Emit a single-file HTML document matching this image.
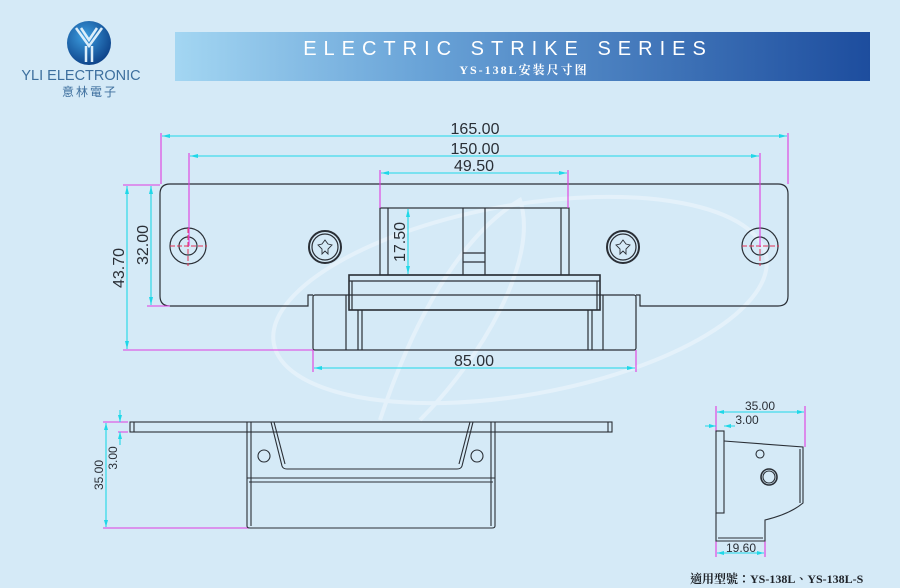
<!DOCTYPE html>
<html><head><meta charset="utf-8"><style>
html,body{margin:0;padding:0;background:#d5eaf7;}
svg{display:block;}
</style></head><body>
<svg width="900" height="588" viewBox="0 0 900 588" xmlns="http://www.w3.org/2000/svg" font-family="Liberation Sans, sans-serif">
<defs>
<linearGradient id="bn" x1="0" x2="1" y1="0" y2="0">
<stop offset="0" stop-color="#a3d6f2"/><stop offset="0.35" stop-color="#6aa4d8"/><stop offset="1" stop-color="#1d4d9e"/></linearGradient>
<radialGradient id="lg" cx="0.4" cy="0.35" r="0.7"><stop offset="0" stop-color="#3d9ee0"/><stop offset="1" stop-color="#0b3f86"/></radialGradient>
</defs>
<rect width="900" height="588" fill="#d5eaf7"/>
<!-- watermark -->
<g fill="none" stroke="#eef7fd" stroke-width="4" opacity="0.6">
<ellipse cx="520" cy="300" rx="250" ry="95" transform="rotate(-10 520 300)"/>
<path d="M380 420 C420 300 470 230 520 200 C540 260 480 360 420 420"/>
</g>
<!-- logo -->
<circle cx="89" cy="43" r="22" fill="url(#lg)"/>
<path d="M76 28 L89 46 L102 28 M81 28 L89 40 L97 28 M86 46 L86 62 M92 46 L92 62" stroke="#dceefa" stroke-width="2.5" fill="none"/>
<text x="81" y="80" text-anchor="middle" font-size="14.5" fill="#3d6f9e">YLI ELECTRONIC</text>
<text x="90" y="96" text-anchor="middle" font-size="12" fill="#3d6f9e" font-family="Liberation Sans, Noto Sans CJK TC, sans-serif" letter-spacing="2">意林電子</text>
<!-- banner -->
<rect x="175" y="32" width="695" height="49" fill="url(#bn)"/>
<text x="508" y="55" text-anchor="middle" font-size="20" fill="#fff" letter-spacing="7">ELECTRIC STRIKE SERIES</text>
<text x="524" y="74" text-anchor="middle" font-size="12" font-weight="bold" fill="#fff" font-family="Liberation Serif, Noto Serif CJK SC, serif" letter-spacing="2">YS-138L安装尺寸图</text>

<!-- front view -->
<g fill="none" stroke="#2a2f36" stroke-width="1.2">
<path d="M170 184 H778 Q788 184 788 194 V296 Q788 306 778 306 H640 V295 H636"/>
<path d="M313 295 H308 V306 H170 Q160 306 160 296 V194 Q160 184 170 184"/>
<rect x="313" y="295" width="323" height="55" rx="2"/>
<path d="M346 295 V350 M358 310 V350 M362 310 V350 M588 310 V350 M592 310 V350 M603 295 V350"/>
<rect x="349" y="275" width="251" height="35" stroke-width="1.6"/>
<path d="M349 281 H600 M352 281 V310 M597 281 V310"/>
<rect x="380" y="208" width="189" height="67"/>
<path d="M388 208 V275 M561 208 V275 M463 208 V275 M485 208 V275 M463 253 H485 M463 262 H485"/>
<circle cx="188" cy="246" r="18"/><circle cx="188" cy="246" r="9"/>
<circle cx="760" cy="246" r="18"/><circle cx="760" cy="246" r="9"/>
<circle cx="325" cy="247" r="16" stroke-width="2"/><circle cx="325" cy="247" r="13"/>
<circle cx="623" cy="247" r="16" stroke-width="2"/><circle cx="623" cy="247" r="13"/>
<path d="M325 240 L328 244 L332 245 L328 249 L328 254 L325 251 L322 254 L322 249 L318 245 L322 244 Z M623 240 L626 244 L630 245 L626 249 L626 254 L623 251 L620 254 L620 249 L616 245 L620 244 Z" stroke-width="0.9"/>
</g>
<g stroke="#e23355" stroke-width="1" stroke-dasharray="5 2">
<path d="M170 246 H207 M188 228 V266 M742 246 H779 M760 228 V266"/>
</g>
<!-- magenta extension lines -->
<g stroke="#e03ce0" stroke-width="1.1" fill="none">
<path d="M161 133 V184 M788 133 V184 M189 153 V246 M760 153 V246 M380 170 V208 M568 170 V208"/>
<path d="M123 185 H160 M123 350 H313 M147 306 H170 M313 350 V372 M636 350 V372"/>
<path d="M103 422 H128 M118 432 H128 M103 528 H250"/>
<path d="M716 406 V432 M805 406 V447 M765 541 V557 M716 541 V557"/>
</g>
<!-- cyan dims -->
<g stroke="#1fd8e8" stroke-width="1.1" fill="none">
<path d="M162 136 H787 M190 156 H759 M381 173 H567 M127 186 V349 M151 186 V305 M408 209 V274 M314 368 H635"/>
<path d="M106 423 V527 M120 410 V422 M120 432 V445"/>
<path d="M717 412 H804 M705 426 H716 M724 426 H735 M717 553 H764"/>
</g>
<g fill="#1fd8e8">
<path d="M162 136 l8 -2 v4z M787 136 l-8 -2 v4z M190 156 l8 -2 v4z M759 156 l-8 -2 v4z M381 173 l8 -2 v4z M567 173 l-8 -2 v4z"/>
<path d="M127 186 l-2 8 h4z M127 349 l-2 -8 h4z M151 186 l-2 8 h4z M151 305 l-2 -8 h4z M408 209 l-2 8 h4z M408 274 l-2 -8 h4z M314 368 l8 -2 v4z M635 368 l-8 -2 v4z"/>
<path d="M106 423 l-2 7 h4z M106 527 l-2 -7 h4z M120 422 l-2 -7 h4z M120 432 l-2 7 h4z"/>
<path d="M717 412 l7 -2 v4z M804 412 l-7 -2 v4z M716 426 l-7 -2 v4z M724 426 l7 -2 v4z M717 553 l7 -2 v4z M764 553 l-7 -2 v4z"/>
</g>
<g fill="#2a2f36" font-size="16" text-anchor="middle">
<text x="475" y="134">165.00</text>
<text x="475" y="154">150.00</text>
<text x="474" y="171">49.50</text>
<text x="474" y="366">85.00</text>
<text transform="translate(124 268) rotate(-90)">43.70</text>
<text transform="translate(148 245) rotate(-90)">32.00</text>
<text transform="translate(405 242) rotate(-90)">17.50</text>
</g>
<g fill="#2a2f36" font-size="12" text-anchor="middle">
<text transform="translate(103 475) rotate(-90)">35.00</text>
<text transform="translate(117 458) rotate(-90)">3.00</text>
<text x="760" y="410">35.00</text>
<text x="747" y="424">3.00</text>
<text x="741" y="552">19.60</text>
</g>

<!-- side view -->
<g fill="none" stroke="#2a2f36" stroke-width="1.1">
<rect x="130" y="422" width="482" height="10"/>
<path d="M134 422 V432 M608 422 V432"/>
<path d="M247 422 V526 Q247 528 250 528 H492 Q495 528 495 526 V422 M251 422 V526 M491 422 V526"/>
<path d="M247 478 H495 M249 482 H493"/>
<path d="M271 422 L282 466 Q283 469 287 469 H457 Q461 469 462 466 L473 422 M274 422 L285 464 M470 422 L459 464"/>
<circle cx="264" cy="456" r="6"/><circle cx="477" cy="456" r="6"/>
</g>
<!-- right view -->
<g fill="none" stroke="#2a2f36" stroke-width="1.1">
<rect x="716" y="431" width="8" height="82"/>
<path d="M716 513 V541 H765 V520 Q790 514 803 503 V447 L724 441"/>
<path d="M718 538 H763 M800 449 V503"/>
<circle cx="760" cy="454" r="4"/><circle cx="769" cy="477" r="8" stroke-width="1.6"/><circle cx="769" cy="477" r="6"/>
</g>
<text x="690" y="583" font-size="12" font-weight="bold" fill="#1e2228" font-family="Liberation Serif, Noto Serif CJK TC, serif">適用型號：YS-138L、YS-138L-S</text>
</svg>
</body></html>
